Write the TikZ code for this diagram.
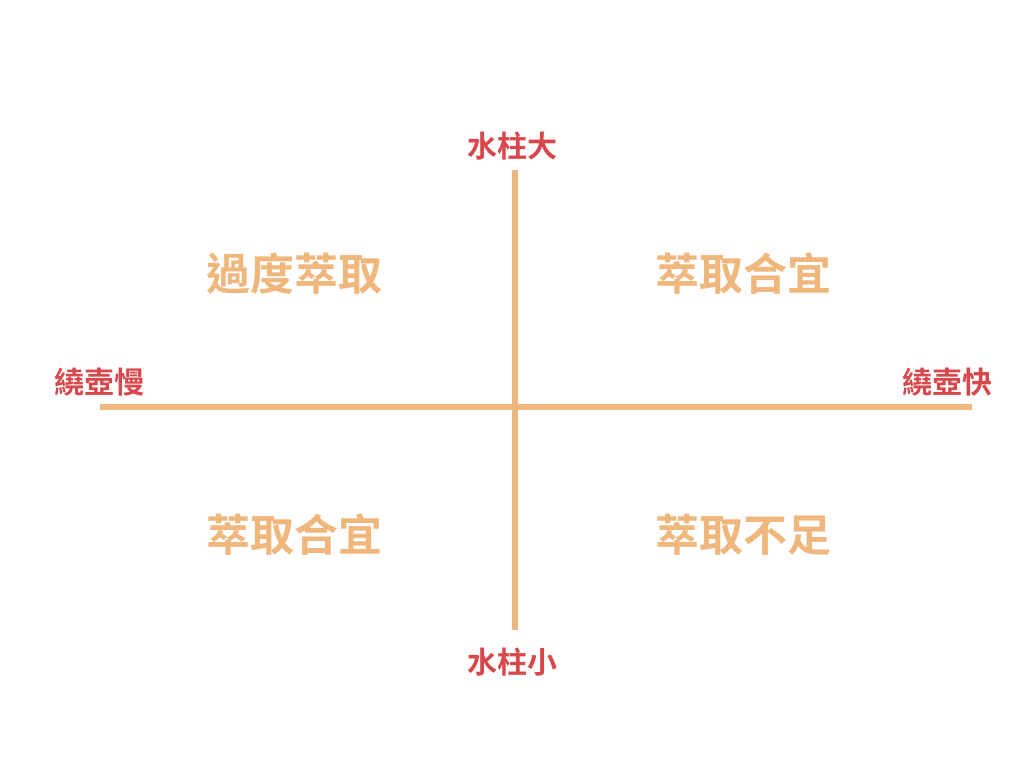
\documentclass[tikz,border=0pt]{standalone}
\usepackage{fontspec}
\newfontfamily\cjk{Noto Sans CJK TC Bold}
\definecolor{axisor}{HTML}{F0B77C}
\definecolor{labred}{HTML}{D8474B}
\begin{document}
\begin{tikzpicture}[x=1pt,y=-1pt,
  axis/.style={draw=axisor,line width=6pt},
  endlab/.style={text=labred,font=\cjk\fontsize{30}{33}\selectfont,inner sep=0pt},
  quadlab/.style={text=axisor,font=\cjk\fontsize{44}{48}\selectfont,inner sep=0pt}]
\useasboundingbox (0,0) rectangle (1024,768);
\node[endlab] (top) at (512,146) {水柱大};
\node[endlab] (bot) at (512,662) {水柱小};
\node[endlab] (left) at (99,382) {繞壺慢};
\node[endlab] (right) at (947,382) {繞壺快};
\coordinate (vt) at (515,170);
\coordinate (vb) at (515,630);
\coordinate (hl) at (100,407);
\coordinate (hr) at (972,407);
\draw[axis] (hl) -- (hr);
\draw[axis] (vt) -- (vb);
\node[quadlab] (q1) at (294,274) {過度萃取};
\node[quadlab] (q2) at (743,274) {萃取合宜};
\node[quadlab] (q3) at (294,535) {萃取合宜};
\node[quadlab] (q4) at (743,535) {萃取不足};
\end{tikzpicture}
\end{document}
